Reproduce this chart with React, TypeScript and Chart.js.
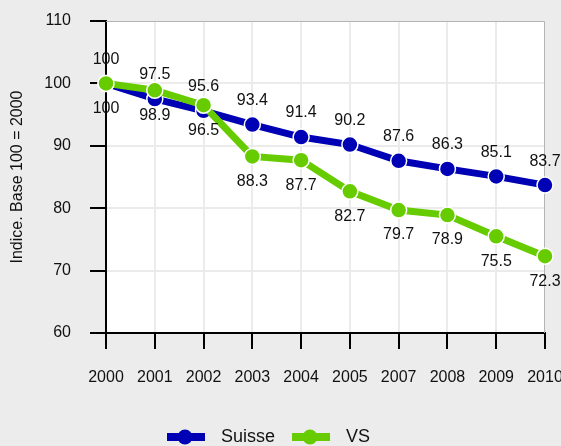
import React, { useEffect, useRef } from 'react';
import { Chart, registerables } from 'chart.js';

Chart.register(...registerables);

const years = ['2000', '2001', '2002', '2003', '2004', '2005', '2007', '2008', '2009', '2010'];
const suisse = [100, 97.5, 95.6, 93.4, 91.4, 90.2, 87.6, 86.3, 85.1, 83.7];
const vs = [100, 98.9, 96.5, 88.3, 87.7, 82.7, 79.7, 78.9, 75.5, 72.3];
const yTicks = [60, 70, 80, 90, 100, 110];
const seriesNames = ['Suisse', 'VS'];
const seriesColors = ['#0000b4', '#66cc00'];
const yTitle = 'Indice. Base 100 = 2000';

const FONT = "'Liberation Sans', Arial, sans-serif";
const TEXT = '#111111';

const plotBg = {
  id: 'plotBg',
  beforeDraw(chart: any) {
    const { ctx, chartArea: a } = chart;
    ctx.save();
    ctx.fillStyle = '#ffffff';
    ctx.fillRect(a.left, a.top, a.right - a.left, a.bottom - a.top);
    ctx.restore();
  },
  beforeDatasetsDraw(chart: any) {
    const { ctx, chartArea: a } = chart;
    ctx.save();
    ctx.strokeStyle = '#b4b4b4';
    ctx.lineWidth = 1;
    ctx.beginPath();
    ctx.moveTo(a.left, a.top + 0.5);
    ctx.lineTo(a.right - 0.5, a.top + 0.5);
    ctx.lineTo(a.right - 0.5, a.bottom);
    ctx.stroke();
    ctx.restore();
  },
};

const valueLabels = {
  id: 'valueLabels',
  afterDatasetsDraw(chart: any) {
    const { ctx } = chart;
    ctx.save();
    ctx.font = `16px ${FONT}`;
    ctx.fillStyle = TEXT;
    ctx.textAlign = 'center';
    ctx.textBaseline = 'middle';
    chart.data.datasets.forEach((ds: any, i: number) => {
      const meta = chart.getDatasetMeta(i);
      meta.data.forEach((pt: any, j: number) => {
        const dy = ds.labelBelow ? 25 : -24;
        ctx.fillText(String(ds.data[j]), pt.x, pt.y + dy);
      });
    });
    ctx.restore();
  },
};

const customLegend = {
  id: 'customLegend',
  afterDraw(chart: any) {
    const { ctx } = chart;
    ctx.save();
    ctx.font = `18px ${FONT}`;
    ctx.textBaseline = 'middle';
    ctx.textAlign = 'left';
    let x = 167;
    const y = 437;
    chart.data.datasets.forEach((ds: any) => {
      ctx.strokeStyle = ds.borderColor;
      ctx.lineWidth = 8;
      ctx.beginPath();
      ctx.moveTo(x, y);
      ctx.lineTo(x + 38, y);
      ctx.stroke();
      ctx.fillStyle = ds.borderColor;
      ctx.beginPath();
      ctx.arc(x + 18, y, 7.5, 0, Math.PI * 2);
      ctx.fill();
      ctx.fillStyle = TEXT;
      const tx = x + 38 + 16;
      ctx.fillText(ds.label, tx, y);
      x = tx + ctx.measureText(ds.label).width + 17;
    });
    ctx.restore();
  },
};

export default function App() {
  const ref = useRef<HTMLCanvasElement | null>(null);

  useEffect(() => {
    if (!ref.current) return;
    const chart = new Chart(ref.current, {
      type: 'line',
      data: {
        labels: years,
        datasets: [
          {
            label: seriesNames[0],
            data: suisse,
            borderColor: seriesColors[0],
            backgroundColor: seriesColors[0],
            pointBackgroundColor: seriesColors[0],
            pointBorderColor: '#ffffff',
            pointBorderWidth: 1.5,
            pointRadius: 8,
            borderWidth: 7,
            tension: 0,
            order: 1,
            labelBelow: false,
          } as any,
          {
            label: seriesNames[1],
            data: vs,
            borderColor: seriesColors[1],
            backgroundColor: seriesColors[1],
            pointBackgroundColor: seriesColors[1],
            pointBorderColor: '#ffffff',
            pointBorderWidth: 1.5,
            pointRadius: 8,
            borderWidth: 7,
            tension: 0,
            order: 0,
            labelBelow: true,
          } as any,
        ],
      },
      options: {
        animation: false,
        responsive: false,
        maintainAspectRatio: false,
        layout: { padding: { top: 21, right: 16, left: 0, bottom: 0 } },
        plugins: {
          legend: { display: false },
          tooltip: { enabled: false },
        },
        scales: {
          x: {
            type: 'category',
            offset: false,
            grid: {
              color: '#ebebeb',
              lineWidth: 2,
              tickColor: '#000000',
              tickWidth: 2,
              tickLength: 16,
            },
            border: { color: '#000000', width: 2 },
            ticks: {
              color: TEXT,
              font: { family: FONT, size: 16 },
              padding: 19,
              maxRotation: 0,
              autoSkip: false,
            },
            afterFit: (s: any) => {
              s.height = 113;
              s.paddingLeft = 0;
              s.paddingRight = 0;
            },
          },
          y: {
            min: yTicks[0],
            max: yTicks[yTicks.length - 1],
            grid: {
              color: '#ebebeb',
              lineWidth: 2,
              tickColor: '#000000',
              tickWidth: 2,
              tickLength: 16,
            },
            border: { color: '#000000', width: 2 },
            ticks: {
              color: TEXT,
              font: { family: FONT, size: 16 },
              padding: 19,
            },
            afterBuildTicks: (s: any) => {
              s.ticks = yTicks.map((v) => ({ value: v }));
            },
            title: {
              display: true,
              text: yTitle,
              color: TEXT,
              font: { family: FONT, size: 16 },
              padding: { top: 8, bottom: 0 },
            },
            afterFit: (s: any) => {
              s.width = 106;
              s.paddingTop = 0;
              s.paddingBottom = 0;
            },
          },
        },
      },
      plugins: [plotBg, valueLabels, customLegend],
    });
    return () => chart.destroy();
  }, []);

  return (
    <div
      style={{
        position: 'fixed',
        left: 0,
        top: 0,
        width: 561,
        height: 446,
        background: '#ececec',
      }}
    >
      <canvas ref={ref} width={561} height={446} style={{ display: 'block' }} />
    </div>
  );
}
